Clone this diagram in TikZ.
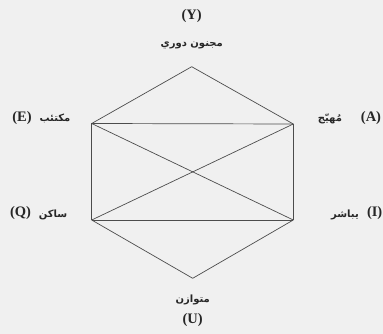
\documentclass[tikz,border=0pt]{standalone}
\usepackage{fontspec}
\setmainfont{Liberation Serif}
\newfontfamily\arabicfont[Script=Arabic]{DejaVu Sans}
\TeXXeTstate=1
\begin{document}
\begin{tikzpicture}[x=1pt,y=-1pt,
  edge/.style={draw=black!70, line width=0.7pt},
  lat/.style={font=\fontsize{14.5}{15}\selectfont\bfseries, text=black!85, inner sep=0pt},
  ar/.style={font=\arabicfont\fontsize{10}{10}\selectfont\bfseries, text=black!85, inner sep=0pt}]
\fill[black!6] (0,0) rectangle (383,334);
\useasboundingbox (0,0) rectangle (383,334);
\coordinate (Y) at (191.7,66.7);
\coordinate (E) at (91.7,123.5);
\coordinate (A) at (293.3,124);
\coordinate (Q) at (91.7,220);
\coordinate (I) at (293.3,220);
\coordinate (U) at (192.7,278.3);
\draw[edge] (Y) -- (E);
\draw[edge] (Y) -- (A);
\draw[edge] (E) -- (A);
\draw[edge] (E) -- (Q);
\draw[edge] (A) -- (I);
\draw[edge] (Q) -- (I);
\draw[edge] (E) -- (I);
\draw[edge] (A) -- (Q);
\draw[edge] (Q) -- (U);
\draw[edge] (I) -- (U);
\node[lat] (lY) at (191.7,16) {(Y)};
\node[ar] (tY) at (191.7,45) {\beginR مجنون دوري\endR};
\node[lat] (lE) at (22,118) {(E)};
\node[ar] (tE) at (55,118) {\beginR مكتئب\endR};
\node[lat] (lA) at (371,118) {(A)};
\node[ar] (tA) at (330,119) {\beginR مُهيّج\endR};
\node[lat] (lQ) at (20.5,213) {(Q)};
\node[ar] (tQ) at (53,215) {\beginR ساكن\endR};
\node[lat, anchor=east] (lI) at (382.5,213) {(I)};
\node[ar] (tI) at (345,215) {\beginR يباشر\endR};
\node[ar] (tU) at (192.7,300) {\beginR متوازن\endR};
\node[lat] (lU) at (192.7,320) {(U)};
\end{tikzpicture}
\end{document}
